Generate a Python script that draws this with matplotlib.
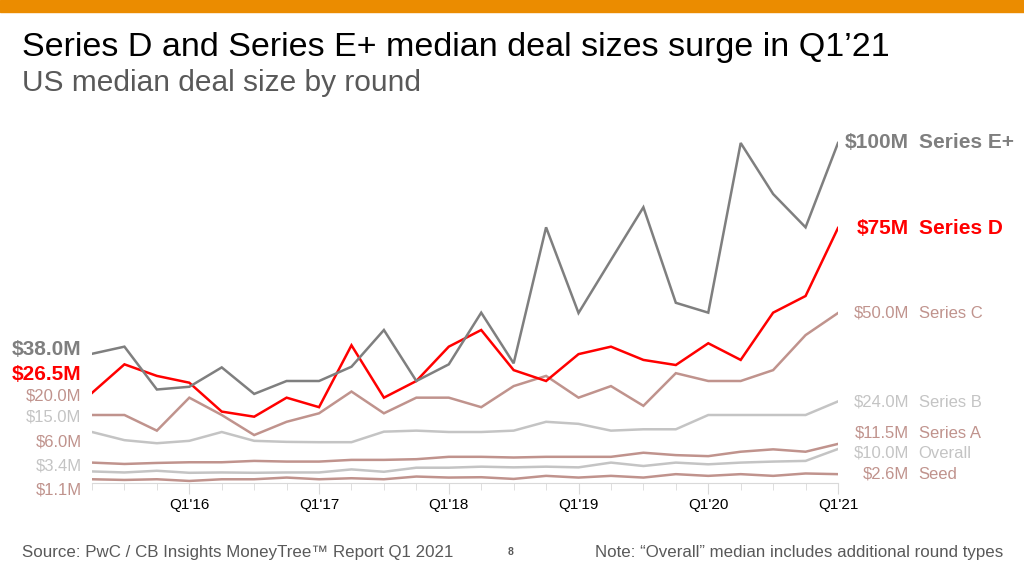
import numpy as np
import matplotlib.pyplot as plt
from matplotlib.ticker import FixedLocator

plt.rcParams['font.family'] = ['Liberation Sans', 'DejaVu Sans']

# quarters Q2'15 .. Q1'21
quarters = [f"Q{(q % 4) + 1}'{15 + (q + 1) // 4}" for q in range(1, 25)]

series_e = [38.0, 40.1, 27.5, 28.3, 34.0, 26.2, 30.0, 30.0, 34.2, 45.0, 30.0, 34.9,
            50.1, 35.2, 75.2, 50.0, 65.6, 81.1, 53.0, 50.1, 100.0, 85.0, 75.2, 100.0]
series_d = [26.5, 34.9, 31.5, 29.5, 21.0, 19.5, 25.1, 22.3, 40.5, 25.1, 30.0, 40.1,
            45.0, 33.2, 30.0, 37.9, 40.1, 36.2, 34.7, 41.1, 36.2, 50.1, 55.0, 75.0]
series_c = [20.0, 20.0, 15.4, 25.1, 20.0, 14.1, 18.0, 20.5, 26.9, 20.5, 25.1, 25.1,
            22.3, 28.5, 31.5, 25.1, 28.5, 22.7, 32.3, 30.0, 30.0, 33.2, 43.5, 50.0]
series_b = [15.0, 12.6, 11.7, 12.4, 15.0, 12.4, 12.1, 12.0, 12.0, 15.1, 15.4, 15.0,
            15.0, 15.4, 18.0, 17.4, 15.4, 15.8, 15.8, 20.0, 20.0, 20.0, 20.0, 24.0]
series_a = [6.0, 5.6, 5.9, 6.1, 6.1, 6.5, 6.3, 6.3, 6.8, 6.8, 7.0, 7.7,
            7.7, 7.5, 7.7, 7.7, 7.7, 8.9, 8.2, 7.9, 9.2, 9.9, 9.2, 11.5]
overall = [3.4, 3.1, 3.6, 3.0, 3.1, 3.0, 3.1, 3.1, 4.0, 3.3, 4.5, 4.5,
           4.8, 4.6, 4.8, 4.6, 6.0, 5.0, 6.0, 5.5, 6.0, 6.3, 6.5, 10.0]
seed = [1.1, 0.9, 1.1, 0.6, 1.1, 1.1, 1.6, 1.1, 1.4, 1.1, 1.9, 1.6,
        1.7, 1.2, 2.1, 1.6, 2.1, 1.6, 2.6, 2.1, 2.6, 2.1, 2.8, 2.6]

names = ['Series E+', 'Series D', 'Series C', 'Series B', 'Series A', 'Overall', 'Seed']
start_labels = ['$38.0M', '$26.5M', '$20.0M', '$15.0M', '$6.0M', '$3.4M', '$1.1M']
end_labels = ['$100M', '$75M', '$50.0M', '$24.0M', '$11.5M', '$10.0M', '$2.6M']

DARK = '#7f7f7f'
RED = '#ff0000'
ROSY = '#c0938d'
LIGHT = '#c4c4c4'
colors = [DARK, RED, ROSY, LIGHT, ROSY, LIGHT, ROSY]
bold = [True, True, False, False, False, False, False]
# label heights (data units), spread so they don't overlap
left_y = [39.4, 31.8, 25.6, 19.4, 12.1, 5.0, -2.1]
right_y = [100, 75, 50, 23.8, 14.7, 8.8, 2.6]

fig = plt.figure(figsize=(10.24, 5.76), dpi=100)
fig.patches.append(plt.Rectangle((0, 1 - 12 / 576), 1, 12 / 576, transform=fig.transFigure,
                                 color='#eb8c00', zorder=0))

ax = fig.add_axes([92 / 1024, 1 - 483 / 576, (838 - 92) / 1024, (483 - 109) / 576])
x = np.arange(len(quarters))
data = [series_e, series_d, series_c, series_b, series_a, overall, seed]

# draw lower / lighter lines first
for i in reversed(range(len(data))):
    ax.plot(x, data[i], color=colors[i], lw=1.8, solid_joinstyle='miter', zorder=2 + (i < 2))

ax.set_xlim(0, len(quarters) - 1)
ax.set_ylim(0, 110)
for s in ['top', 'right', 'left']:
    ax.spines[s].set_visible(False)
ax.spines['bottom'].set_color('#d9d9d9')
ax.set_yticks([])
major = [i for i, q in enumerate(quarters) if q.startswith('Q1')]
ax.set_xticks(major)
ax.set_xticklabels([quarters[i] for i in major], fontsize=11, color='#000000')
ax.xaxis.set_minor_locator(FixedLocator(x))
ax.tick_params(axis='x', which='major', length=8, color='#d9d9d9', pad=3)
ax.tick_params(axis='x', which='minor', length=5, color='#d9d9d9')

for i in range(len(data)):
    w = 'bold' if bold[i] else 'normal'
    fs = 15 if bold[i] else 12
    ax.annotate(start_labels[i], xy=(0, left_y[i]), xytext=(-7.5, 0), textcoords='offset points',
                ha='right', va='center', fontsize=fs, fontweight=w, color=colors[i],
                annotation_clip=False)
    ax.annotate(end_labels[i], xy=(len(quarters) - 1, right_y[i]), xytext=(51, 0),
                textcoords='offset points', ha='right', va='center', fontsize=fs,
                fontweight=w, color=colors[i], annotation_clip=False)
    ax.annotate(names[i], xy=(len(quarters) - 1, right_y[i]), xytext=(58, 0),
                textcoords='offset points', ha='left', va='center', fontsize=fs,
                fontweight=w, color=colors[i], annotation_clip=False)

fig.text(22 / 1024, 1 - 56 / 576, 'Series D and Series E+ median deal sizes surge in Q1\u201921',
         fontsize=24.5, va='baseline', ha='left', color='#000000')
fig.text(22 / 1024, 1 - 91 / 576, 'US median deal size by round',
         fontsize=21.5, va='baseline', ha='left', color='#595959')
fig.text(22 / 1024, 1 - 553 / 576, 'Source: PwC / CB Insights MoneyTree\u2122 Report Q1 2021',
         fontsize=12.2, va='center', ha='left', color='#595959')
fig.text(511 / 1024, 1 - 552 / 576, '8', fontsize=7.5, fontweight='bold',
         va='center', ha='center', color='#595959')
fig.text(1003 / 1024, 1 - 553 / 576,
         'Note: \u201cOverall\u201d median includes additional round types',
         fontsize=12.2, va='center', ha='right', color='#595959')

fig.savefig('out.png', dpi=100)
